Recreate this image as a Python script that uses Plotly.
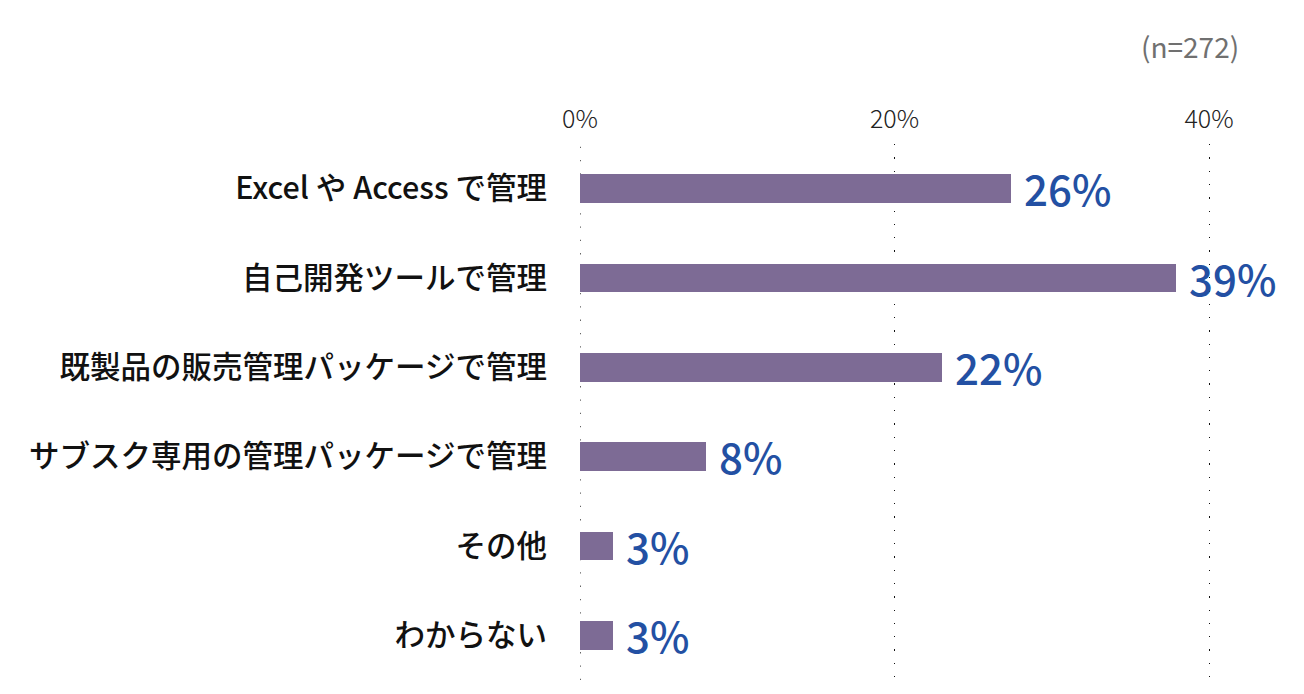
import plotly.graph_objects as go

categories = ["Excel や Access で管理", "自己開発ツールで管理", "既製品の販売管理パッケージで管理",
              "サブスク専用の管理パッケージで管理", "その他", "わからない"]
bar_values = [27.4, 37.9, 23.0, 8.0, 2.1, 2.1]
value_labels = ["26%", "39%", "22%", "8%", "3%", "3%"]
tick_vals = [0, 20, 40]
tick_text = ["0%", "20%", "40%"]
sample_note = "(n=272)"

BAR = "#7d6b95"
LBL = "#2350a3"
JP = "Noto Sans CJK JP"
GRID = "#111111"
DASH = "1.3px,12px"

W, H = 1296, 686
L, R, T, B = 572, 32, 136, 14

fig = go.Figure()
fig.add_trace(go.Bar(
    x=bar_values, y=categories, orientation="h",
    marker=dict(color=BAR, line=dict(width=0)),
    width=0.32, hoverinfo="skip",
))

for v, c, t in zip(bar_values, categories, value_labels):
    fig.add_annotation(x=v, y=c, xref="x", yref="y", text=t, showarrow=False,
                       xanchor="left", yanchor="middle", xshift=11, yshift=1,
                       font=dict(family=JP, size=42, color=LBL, weight=500))

fig.add_annotation(x=(1241 - 8 - L) / (W - L - R), y=(H - (46 - 8) - B) / (H - T - B),
                   xref="paper", yref="paper", text=sample_note, showarrow=False,
                   xanchor="right", yanchor="middle",
                   font=dict(family=JP, size=28, color="#707070", weight=400))

# dotted line at 0 (edge gridline)
fig.add_vline(x=tick_vals[0], line=dict(color=GRID, width=1.3, dash=DASH), layer="below")

fig.update_layout(
    width=W, height=H,
    margin=dict(l=L, r=R, t=T, b=B),
    paper_bgcolor="white", plot_bgcolor="white",
    showlegend=False,
    bargap=0,
)

fig.update_xaxes(
    range=[0, 44], side="top", tickvals=tick_vals, ticktext=tick_text,
    showgrid=True, gridcolor=GRID, gridwidth=1.3, griddash=DASH,
    zeroline=False, showline=False, ticks="", ticklabelstandoff=10,
    tickfont=dict(family=JP, size=25, color="#222222", weight=300),
    fixedrange=True,
)
fig.update_yaxes(
    autorange="reversed", showgrid=False, zeroline=False, showline=False,
    ticks="", ticklabelstandoff=32,
    tickfont=dict(family=JP, size=30.5, color="#111111", weight=500),
    fixedrange=True,
)

fig.write_html("out.html")
